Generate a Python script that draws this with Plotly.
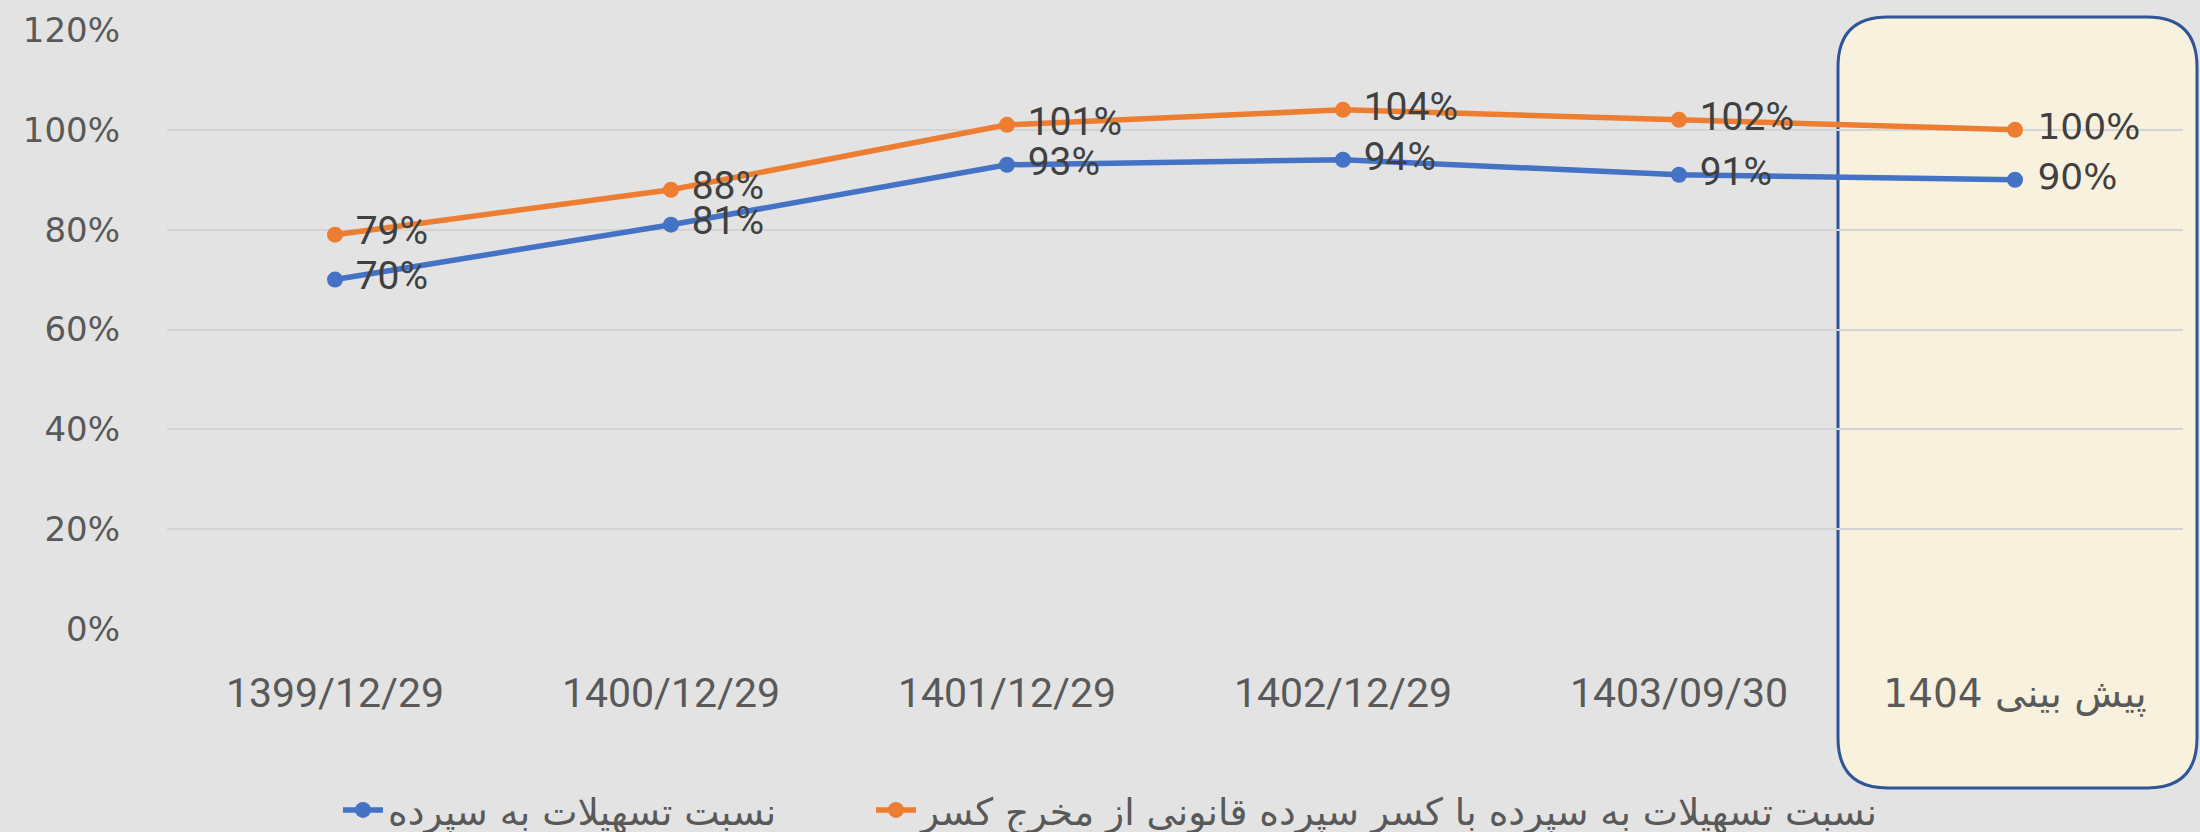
import plotly.graph_objects as go

# ---- data ----
categories = ["1399/12/29", "1400/12/29", "1401/12/29", "1402/12/29", "1403/09/30", "پیش بینی 1404"]
loan_to_deposit = [0.70, 0.81, 0.93, 0.94, 0.91, 0.90]
loan_to_deposit_net = [0.79, 0.88, 1.01, 1.04, 1.02, 1.00]
series_names = [
    "نسبت تسهیلات به سپرده",
    "نسبت تسهیلات به سپرده با کسر سپرده قانونی از مخرج کسر",
]
y_tickvals = [0, 0.2, 0.4, 0.6, 0.8, 1.0, 1.2]
y_ticktext = ["0%", "20%", "40%", "60%", "80%", "100%", "120%"]

# ---- layout constants ----
W, H = 2200, 832
ML, MR, MT, MB = 167, 17, 30, 203
PW, PH = W - ML - MR, H - MT - MB

NARROW = "Roboto, 'Liberation Sans', sans-serif"
WIDE = "'DejaVu Sans', Verdana, sans-serif"
TXT = "#595959"

def px2x(px):
    return (px - ML) / PW

def py2y(py):
    return (H - MB - py) / PH

def labels(vals):
    return [f" {round(v * 100)}%" for v in vals]

n = len(categories)
lab_fam = [NARROW] * (n - 1) + [WIDE]
lab_size = [39] * (n - 1) + [36]

fig = go.Figure()
for i, (name, vals, col) in enumerate([
    (series_names[0], loan_to_deposit, "#4472C4"),
    (series_names[1], loan_to_deposit_net, "#ED7D31"),
]):
    fig.add_trace(go.Scatter(
        x=categories, y=vals, name=name, mode="lines+markers+text",
        line=dict(color=col, width=5.5),
        marker=dict(color=col, size=16),
        text=labels(vals), textposition="middle right",
        textfont=dict(family=lab_fam, size=lab_size, color="#404040"),
        cliponaxis=False, hoverinfo="skip",
        legendwidth=478 if i == 0 else None,
    ))

# rounded forecast box (decoration)
L, R, T, B, r = 1838, 2197, 17, 788, 50
path = (
    f"M {px2x(L + r)},{py2y(T)} L {px2x(R - r)},{py2y(T)} "
    f"Q {px2x(R)},{py2y(T)} {px2x(R)},{py2y(T + r)} "
    f"L {px2x(R)},{py2y(B - r)} Q {px2x(R)},{py2y(B)} {px2x(R - r)},{py2y(B)} "
    f"L {px2x(L + r)},{py2y(B)} Q {px2x(L)},{py2y(B)} {px2x(L)},{py2y(B - r)} "
    f"L {px2x(L)},{py2y(T + r)} Q {px2x(L)},{py2y(T)} {px2x(L + r)},{py2y(T)} Z"
)
fig.add_shape(type="path", path=path, xref="paper", yref="paper",
              fillcolor="#F8F1DD", line=dict(color="#2F5597", width=3), layer="below")

ticktext = list(categories[:-1]) + [
    f"<span style='font-family:DejaVu Sans;font-size:39px'>{categories[-1]}</span>"
]

fig.update_layout(
    width=W, height=H,
    margin=dict(l=ML, r=MR, t=MT, b=MB, pad=0, autoexpand=False),
    paper_bgcolor="#E3E3E3", plot_bgcolor="#E3E3E3",
    showlegend=True,
    legend=dict(orientation="h", x=px2x(338), xanchor="left",
                y=py2y(810), yanchor="middle",
                font=dict(family=WIDE, size=37.5, color=TXT),
                bgcolor="rgba(0,0,0,0)", itemwidth=40),
    xaxis=dict(type="category", range=[-0.5, n - 0.5],
               tickvals=categories, ticktext=ticktext,
               showgrid=False, showline=False, zeroline=False, ticks="",
               tickfont=dict(family=NARROW, size=41, color=TXT),
               ticklabelstandoff=36),
    yaxis=dict(range=[0, 1.2], tickvals=y_tickvals, ticktext=y_ticktext,
               showgrid=True, gridcolor="#D4D4D4", gridwidth=1.5,
               zeroline=False, showline=False, ticks="",
               tickfont=dict(family=WIDE, size=34, color=TXT),
               ticklabelstandoff=46),
)

fig.write_html("out.html", config={"displayModeBar": False},
               post_script="document.body.style.margin='0';document.body.style.overflow='hidden';")
